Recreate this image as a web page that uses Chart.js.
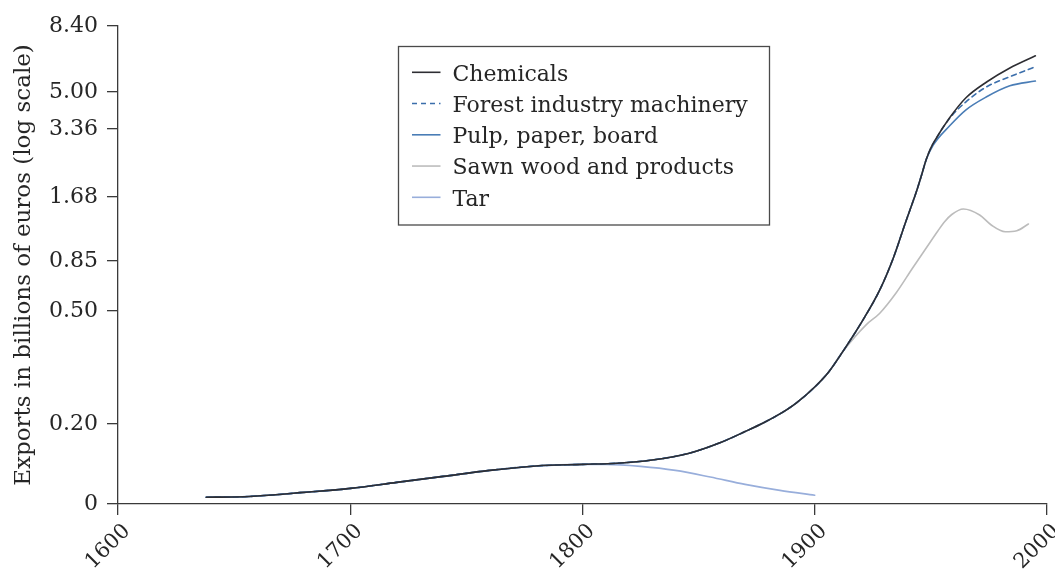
<!DOCTYPE html>
<html>
<head>
<meta charset="utf-8">
<script src="https://cdn.jsdelivr.net/npm/chart.js@4.4.1/dist/chart.umd.min.js"></script>
<style>
  html, body { margin: 0; padding: 0; background: #ffffff; }
  #wrap { width: 1055px; height: 570px; position: relative; }
</style>
</head>
<body>
<div id="wrap"><canvas id="exports"></canvas></div>
<script>
// Export values in billions of euros, by year.
const CHEMICALS_YEARS  = [1638, 1650, 1660, 1680, 1700, 1720, 1740, 1760, 1780, 1800, 1815, 1830, 1846, 1860, 1870, 1878, 1885, 1892, 1900, 1906, 1912, 1920, 1928, 1934, 1939, 1944, 1946, 1948, 1950, 1952, 1958, 1965, 1974, 1984, 1995];
const CHEMICALS_VALUES = [0.017, 0.0175, 0.020, 0.029, 0.039, 0.054, 0.069, 0.084, 0.095, 0.099, 0.102, 0.110, 0.127, 0.155, 0.181, 0.202, 0.217, 0.237, 0.270, 0.305, 0.359, 0.454, 0.625, 0.887, 1.274, 1.804, 2.10, 2.46, 2.77, 3.02, 3.78, 4.69, 5.41, 6.04, 6.65];

const MACHINERY_YEARS  = [1638, 1650, 1660, 1680, 1700, 1720, 1740, 1760, 1780, 1800, 1815, 1830, 1846, 1860, 1870, 1878, 1885, 1892, 1900, 1906, 1912, 1920, 1928, 1934, 1939, 1944, 1946, 1948, 1950, 1952, 1958, 1965, 1974, 1984, 1995];
const MACHINERY_VALUES = [0.017, 0.0175, 0.020, 0.029, 0.039, 0.054, 0.069, 0.084, 0.095, 0.099, 0.102, 0.110, 0.127, 0.155, 0.181, 0.202, 0.217, 0.237, 0.270, 0.305, 0.359, 0.454, 0.625, 0.887, 1.274, 1.804, 2.10, 2.46, 2.77, 3.02, 3.76, 4.49, 5.21, 5.64, 6.10];

const PULP_YEARS  = [1638, 1650, 1660, 1680, 1700, 1720, 1740, 1760, 1780, 1800, 1815, 1830, 1846, 1860, 1870, 1878, 1885, 1892, 1900, 1906, 1912, 1920, 1928, 1934, 1939, 1944, 1946, 1948, 1951, 1958, 1965, 1974, 1984, 1995];
const PULP_VALUES = [0.017, 0.0175, 0.020, 0.029, 0.039, 0.054, 0.069, 0.084, 0.095, 0.099, 0.102, 0.110, 0.127, 0.155, 0.181, 0.202, 0.217, 0.237, 0.270, 0.305, 0.359, 0.454, 0.625, 0.887, 1.274, 1.804, 2.10, 2.46, 2.85, 3.47, 4.12, 4.75, 5.25, 5.45];

const SAWN_YEARS  = [1638, 1650, 1660, 1680, 1700, 1720, 1740, 1760, 1780, 1800, 1815, 1830, 1846, 1860, 1870, 1878, 1885, 1892, 1900, 1906, 1912, 1922, 1928, 1935, 1942, 1948, 1953, 1956, 1959, 1964, 1971, 1976, 1982, 1987, 1992];
const SAWN_VALUES = [0.017, 0.0175, 0.020, 0.029, 0.039, 0.054, 0.069, 0.084, 0.095, 0.099, 0.102, 0.110, 0.127, 0.155, 0.181, 0.202, 0.217, 0.237, 0.270, 0.305, 0.359, 0.446, 0.491, 0.605, 0.785, 0.976, 1.170, 1.294, 1.394, 1.478, 1.387, 1.247, 1.161, 1.173, 1.260];

const TAR_YEARS  = [1638, 1650, 1660, 1680, 1700, 1720, 1740, 1760, 1780, 1800, 1810, 1825, 1840, 1855, 1870, 1885, 1900];
const TAR_VALUES = [0.017, 0.0175, 0.020, 0.029, 0.039, 0.054, 0.069, 0.084, 0.095, 0.099, 0.099, 0.094, 0.084, 0.0675, 0.049, 0.034, 0.022];

// Axis ticks.
const Y_TICKS = [0, 0.20, 0.50, 0.85, 1.68, 3.36, 5.00, 8.40];
const X_TICKS = [1600, 1700, 1800, 1900, 2000];

// Where each y tick sits along the axis (0 = bottom, 1 = top).
const Y_TICK_FRACTIONS = [0, 0.1674, 0.4038, 0.5084, 0.6423, 0.7845, 0.8619, 1];

function valueToFraction(v) {
  const n = Y_TICKS.length;
  if (v <= Y_TICKS[0]) return Y_TICK_FRACTIONS[0];
  for (let i = 0; i < n - 1; i++) {
    const a = Y_TICKS[i], b = Y_TICKS[i + 1];
    if (v <= b || i === n - 2) {
      const fa = Y_TICK_FRACTIONS[i], fb = Y_TICK_FRACTIONS[i + 1];
      const t = a === 0 ? (v - a) / (b - a) : Math.log(v / a) / Math.log(b / a);
      return fa + t * (fb - fa);
    }
  }
  return 1;
}
function fractionToValue(f) {
  const n = Y_TICKS.length;
  for (let i = 0; i < n - 1; i++) {
    const fa = Y_TICK_FRACTIONS[i], fb = Y_TICK_FRACTIONS[i + 1];
    if (f <= fb || i === n - 2) {
      const a = Y_TICKS[i], b = Y_TICKS[i + 1];
      const t = (f - fa) / (fb - fa);
      return a === 0 ? a + t * (b - a) : a * Math.pow(b / a, t);
    }
  }
  return Y_TICKS[n - 1];
}

// Log-style value axis whose labelled ticks sit at fixed stations.
class AnchoredLogScale extends Chart.LinearScale {
  static id = 'anchoredLog';
  static defaults = Chart.LinearScale.defaults;
  determineDataLimits() {
    this.min = Y_TICKS[0];
    this.max = Y_TICKS[Y_TICKS.length - 1];
  }
  buildTicks() {
    return Y_TICKS.map(v => ({ value: v }));
  }
  getPixelForValue(value) {
    return this.getPixelForDecimal(valueToFraction(value));
  }
  getValueForPixel(pixel) {
    return fractionToValue(this.getDecimalForPixel(pixel));
  }
}
Chart.register(AnchoredLogScale);

const toPoints = (xs, ys) => xs.map((x, i) => ({ x, y: ys[i] }));

const FONT_FAMILY = '"DejaVu Serif", "Liberation Serif", serif';
const TEXT_COLOR = '#262626';
const AXIS_COLOR = '#3a3a3a';

// Framed key drawn in the upper middle of the plot.
const framedKey = {
  id: 'framedKey',
  afterDatasetsDraw(chart, args, o) {
    const ctx = chart.ctx;
    ctx.save();
    ctx.fillStyle = '#ffffff';
    ctx.fillRect(o.left, o.top, o.width, o.height);
    ctx.strokeStyle = o.borderColor;
    ctx.lineWidth = o.borderWidth;
    ctx.strokeRect(o.left, o.top, o.width, o.height);
    ctx.font = o.font;
    ctx.textAlign = 'left';
    ctx.textBaseline = 'alphabetic';
    chart.data.datasets.forEach((ds, i) => {
      const cy = o.top + o.firstRow + i * o.rowGap;
      ctx.beginPath();
      ctx.setLineDash(ds.borderDash || []);
      ctx.strokeStyle = ds.borderColor;
      ctx.lineWidth = ds.borderWidth;
      ctx.moveTo(o.left + o.sampleStart, cy);
      ctx.lineTo(o.left + o.sampleEnd, cy);
      ctx.stroke();
      ctx.setLineDash([]);
      ctx.fillStyle = o.color;
      ctx.fillText(ds.label, o.left + o.textStart, cy + o.baselineShift);
    });
    ctx.restore();
  }
};

const lineStyle = {
  fill: false,
  pointRadius: 0,
  pointHoverRadius: 0,
  cubicInterpolationMode: 'monotone',
  borderWidth: 1.6,
  borderCapStyle: 'round'
};

new Chart(document.getElementById('exports'), {
  type: 'line',
  data: {
    datasets: [
      { ...lineStyle, label: 'Chemicals', data: toPoints(CHEMICALS_YEARS, CHEMICALS_VALUES), borderColor: '#2e2e33' },
      { ...lineStyle, label: 'Forest industry machinery', data: toPoints(MACHINERY_YEARS, MACHINERY_VALUES), borderColor: '#3b6eab', borderDash: [5, 4] },
      { ...lineStyle, label: 'Pulp, paper, board', data: toPoints(PULP_YEARS, PULP_VALUES), borderColor: '#4a7db6' },
      { ...lineStyle, label: 'Sawn wood and products', data: toPoints(SAWN_YEARS, SAWN_VALUES), borderColor: '#bcbcbc' },
      { ...lineStyle, label: 'Tar', data: toPoints(TAR_YEARS, TAR_VALUES), borderColor: '#98aedb' }
    ]
  },
  options: {
    responsive: true,
    maintainAspectRatio: false,
    animation: false,
    devicePixelRatio: 1,
    layout: { padding: { top: 26, right: 8, bottom: 0, left: 0 } },
    plugins: {
      legend: { display: false },
      tooltip: { enabled: false },
      framedKey: {
        left: 398.5, top: 46.5, width: 371, height: 178.5,
        firstRow: 25.8, rowGap: 31.25,
        sampleStart: 13.5, sampleEnd: 42, textStart: 54, baselineShift: 8.2,
        font: '22px ' + FONT_FAMILY, color: TEXT_COLOR,
        borderColor: '#4a4a4a', borderWidth: 1.3
      }
    },
    scales: {
      x: {
        type: 'linear',
        min: 1600,
        max: 2000,
        afterBuildTicks: s => { s.ticks = X_TICKS.map(v => ({ value: v })); },
        afterFit: s => { s.height = 66; s.paddingLeft = 0; s.paddingRight = 0; },
        ticks: {
          autoSkip: false,
          minRotation: 45,
          maxRotation: 45,
          padding: 4,
          labelOffset: 9,
          color: TEXT_COLOR,
          font: { family: FONT_FAMILY, size: 21 },
          callback: v => String(v)
        },
        grid: { drawOnChartArea: false, drawTicks: true, tickLength: 11, color: AXIS_COLOR, lineWidth: 1.3 },
        border: { display: true, color: AXIS_COLOR, width: 1.3 }
      },
      y: {
        type: 'anchoredLog',
        position: 'left',
        afterFit: s => { s.width = 118; },
        ticks: {
          padding: 9,
          color: TEXT_COLOR,
          font: { family: FONT_FAMILY, size: 22 },
          callback: v => (v === 0 ? '0' : v.toFixed(2))
        },
        grid: { drawOnChartArea: false, drawTicks: true, tickLength: 11, color: AXIS_COLOR, lineWidth: 1.3 },
        border: { display: true, color: AXIS_COLOR, width: 1.3 },
        title: {
          display: true,
          text: 'Exports in billions of euros (log scale)',
          color: TEXT_COLOR,
          font: { family: FONT_FAMILY, size: 23 },
          padding: { top: 10, bottom: 0 }
        }
      }
    }
  },
  plugins: [framedKey]
});
</script>
</body>
</html>
